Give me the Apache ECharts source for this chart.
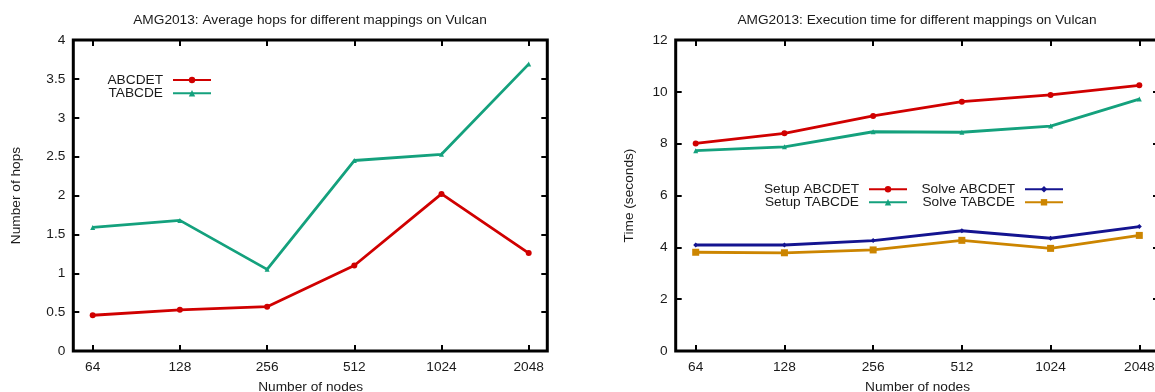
<!DOCTYPE html>
<html>
<head>
<meta charset="utf-8">
<script src="https://cdn.jsdelivr.net/npm/echarts@6/dist/echarts.min.js"></script>
<style>
  html, body { margin: 0; padding: 0; background: #fff; }
  #chart { width: 1155px; height: 392px; }
</style>
</head>
<body>
<div id="chart"></div>
<script>
// Node counts along the x axis
const nodes = ['64', '128', '256', '512', '1024', '2048'];

// Average hops per mapping
const hopsABCDET = [0.46, 0.53, 0.57, 1.10, 2.02, 1.26];
const hopsTABCDE = [1.59, 1.68, 1.05, 2.45, 2.53, 3.69];

// Execution time (seconds) per phase and mapping
const setupABCDET = [8.01, 8.40, 9.07, 9.62, 9.88, 10.25];
const setupTABCDE = [7.73, 7.88, 8.46, 8.44, 8.68, 9.72];
const solveABCDET = [4.09, 4.09, 4.26, 4.64, 4.35, 4.80];
const solveTABCDE = [3.81, 3.79, 3.90, 4.27, 3.96, 4.46];

const FONT = 'Liberation Sans, Arial, Helvetica, sans-serif';
const FS = 13.7;
const TXT = '#1a1a1a';
const RED = '#d00000', GREEN = '#14a17d', NAVY = '#141490', ORANGE = '#cc8500';

const tick = () => ({ show: true, inside: true, length: 6,
                      lineStyle: { color: '#000', width: 2 } });
const text = () => ({ color: TXT, fontFamily: FONT, fontSize: FS });
// Axis line kept but transparent: the frame around each plot draws the box
const noLine = () => ({ show: true, onZero: false, lineStyle: { color: 'rgba(0,0,0,0)' } });

// Invisible axis used only to complete a cartesian system
function hiddenAxis(gridIndex, min, max) {
  return { type: 'value', gridIndex, min, max, show: false,
           axisLine: { onZero: false }, splitLine: { show: false } };
}

// Node axis: bottom one carries labels and name, top one mirrors ticks
function nodeAxis(gridIndex, top) {
  return {
    type: 'category', gridIndex, position: top ? 'top' : 'bottom',
    data: nodes, boundaryGap: false,
    axisLine: noLine(),
    splitLine: { show: false },
    axisTick: Object.assign({ interval: 0 }, tick()),
    axisLabel: top ? { show: false } : Object.assign({ show: true, margin: 9, interval: 0 }, text()),
    name: top ? '' : 'Number of nodes',
    nameLocation: 'middle', nameGap: 29,
    nameTextStyle: text()
  };
}

// Value axis: left one carries labels and name, right one mirrors ticks
function valueAxis(gridIndex, right, max, interval, name, gap) {
  return {
    type: 'value', gridIndex, position: right ? 'right' : 'left',
    min: 0, max, interval,
    axisLine: noLine(),
    splitLine: { show: false },
    axisTick: tick(),
    axisLabel: right ? { show: false } : Object.assign({ show: true, margin: 8 }, text()),
    name: right ? '' : name,
    nameLocation: 'middle', nameGap: gap,
    nameTextStyle: text()
  };
}

function line(name, data, color, symbol, size, xi, yi) {
  return {
    type: 'line', name, data, xAxisIndex: xi, yAxisIndex: yi,
    symbol, symbolSize: size, showSymbol: true,
    lineStyle: { color, width: 2.8 },
    itemStyle: { color },
    emphasis: { disabled: true },
    animation: false
  };
}

function legendItem(name, right, top) {
  return {
    data: [name], right, top, orient: 'horizontal', align: 'right',
    padding: 0, itemWidth: 38, itemHeight: 8, selectedMode: false,
    textStyle: Object.assign({ padding: [0, 5, 0, 0] }, text())
  };
}

const frame = () => ({ show: true, borderColor: '#000', borderWidth: 3,
                       backgroundColor: 'transparent', outerBoundsMode: 'none' });
const area = () => ({ show: false, outerBoundsMode: 'none' });

const chart = echarts.init(document.getElementById('chart'), null, { renderer: 'canvas' });
chart.setOption({
  backgroundColor: '#fff',
  animation: false,
  title: [
    { text: 'AMG2013: Average hops for different mappings on Vulcan',
      left: 310, top: 13, textAlign: 'center', padding: 0,
      textStyle: Object.assign({ fontWeight: 'normal' }, text()) },
    { text: 'AMG2013: Execution time for different mappings on Vulcan',
      left: 917, top: 13, textAlign: 'center', padding: 0,
      textStyle: Object.assign({ fontWeight: 'normal' }, text()) }
  ],
  grid: [
    // hops: frame, then plotting area inset from the frame
    Object.assign({ left: 73.3, right: 607.7, top: 40, bottom: 41 }, frame()),
    Object.assign({ left: 92.7, right: 626.3, top: 40, bottom: 41 }, area()),
    // time: frame, then plotting area
    Object.assign({ left: 675.7, right: -4, top: 40, bottom: 41 }, frame()),
    Object.assign({ left: 695.7, right: 15.7, top: 40, bottom: 41 }, area())
  ],
  xAxis: [
    hiddenAxis(0, 0, 1), nodeAxis(1, false), nodeAxis(1, true),
    hiddenAxis(2, 0, 1), nodeAxis(3, false), nodeAxis(3, true)
  ],
  yAxis: [
    valueAxis(0, false, 4, 0.5, 'Number of hops', 50),
    valueAxis(0, true, 4, 0.5, '', 0),
    hiddenAxis(1, 0, 4),
    valueAxis(2, false, 12, 2, 'Time (seconds)', 39),
    valueAxis(2, true, 12, 2, '', 0),
    hiddenAxis(3, 0, 12)
  ],
  legend: [
    legendItem('ABCDET', 943, 73),
    legendItem('TABCDE', 943, 86.3),
    legendItem('Setup ABCDET', 247, 182.3),
    legendItem('Setup TABCDE', 247, 195.3),
    legendItem('Solve ABCDET', 91, 182.3),
    legendItem('Solve TABCDE', 91, 195.3)
  ],
  series: [
    line('ABCDET', hopsABCDET, RED, 'circle', 6, 1, 2),
    line('TABCDE', hopsTABCDE, GREEN, 'triangle', 5, 1, 2),
    line('Setup ABCDET', setupABCDET, RED, 'circle', 6, 4, 5),
    line('Setup TABCDE', setupTABCDE, GREEN, 'triangle', 5, 4, 5),
    line('Solve ABCDET', solveABCDET, NAVY, 'diamond', 5, 4, 5),
    line('Solve TABCDE', solveTABCDE, ORANGE, 'rect', 7, 4, 5)
  ]
});
</script>
</body>
</html>
